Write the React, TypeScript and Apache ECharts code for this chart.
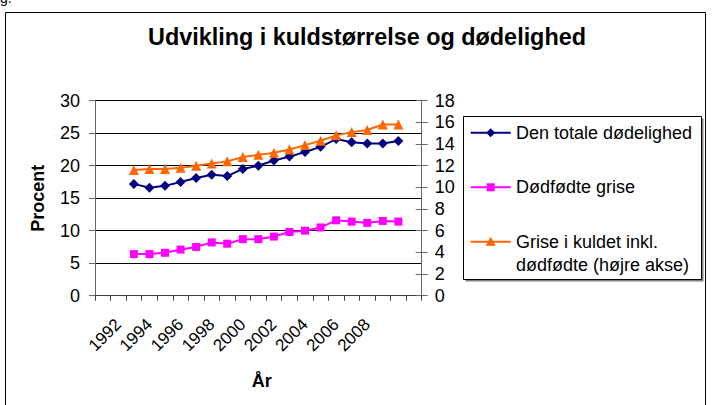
import React, { useEffect, useRef } from "react";
import * as echarts from "echarts";

const FONT = "'Liberation Sans', Arial, sans-serif";

const chartTitle = "Udvikling i kuldstørrelse og dødelighed";
const categories = ["1991","1992","1993","1994","1995","1996","1997","1998","1999","2000","2001","2002","2003","2004","2005","2006","2007","2008","2009","2010","2011"];
const shownLabels = ["1992","1994","1996","1998","2000","2002","2004","2006","2008"];
const dataYears = ["1993","1994","1995","1996","1997","1998","1999","2000","2001","2002","2003","2004","2005","2006","2007","2008","2009","2010"];

const seriesNames = ["Den totale dødelighed", "Dødfødte grise", "Grise i kuldet inkl. dødfødte (højre akse)"];
const totalMortality = [17.2, 16.6, 16.9, 17.5, 18.1, 18.6, 18.4, 19.5, 20.0, 20.8, 21.4, 22.1, 22.9, 24.1, 23.6, 23.4, 23.4, 23.8];
const stillborn = [6.4, 6.4, 6.6, 7.1, 7.5, 8.2, 8.0, 8.7, 8.7, 9.1, 9.8, 10.0, 10.5, 11.6, 11.4, 11.2, 11.5, 11.4];
const litterSize = [11.6, 11.7, 11.7, 11.8, 12.0, 12.2, 12.4, 12.8, 13.0, 13.2, 13.5, 13.9, 14.3, 14.8, 15.1, 15.3, 15.8, 15.8];

const colors = ["#000080", "#FF00FF", "#FF6600"];

const pad = (vals: number[]) =>
  categories.map((c) => {
    const i = dataYears.indexOf(c);
    return i >= 0 ? vals[i] : null;
  });

export default function App() {
  const ref = useRef<HTMLDivElement>(null);
  useEffect(() => {
    if (!ref.current) return;
    const chart = echarts.init(ref.current, null, { renderer: "svg" });
    const gridLeft = 95;
    const gridRight = 291.3;
    const gridTop = 100.7;
    const gridBottom = 109.3;

    // legend geometry
    const lx = 463.5, ly = 116.5, lw = 238, lh = 163;
    const itemY = [132.7, 187.3, 241.7];
    const lineX1 = 470.7, lineX2 = 510.7, mx = 490.7, tx = 516;

    const legendTextStyle = { fontSize: 18, fontFamily: FONT, fill: "#000", verticalAlign: "middle" as const, align: "left" as const };

    const graphic: any[] = [
      { type: "text", left: 0, top: -9, style: { text: "g.", fontSize: 14, fontFamily: FONT, fill: "#000" } },
      { type: "rect", shape: { x: 5.5, y: 12.5, width: 700, height: 400 }, style: { fill: "none", stroke: "#000", lineWidth: 1 }, silent: true },
      { type: "rect", shape: { x: lx + 2, y: ly + 2, width: lw, height: lh }, style: { fill: "#808080" }, z: 10 },
      { type: "rect", shape: { x: lx, y: ly, width: lw, height: lh }, style: { fill: "#fff", stroke: "#000", lineWidth: 1 }, z: 11 },
    ];
    itemY.forEach((y, i) => {
      graphic.push({ type: "line", shape: { x1: lineX1, y1: y, x2: lineX2, y2: y }, style: { stroke: colors[i], lineWidth: 2 }, z: 12 });
    });
    graphic.push({ type: "polygon", shape: { points: [[mx, itemY[0] - 4.5], [mx + 4.5, itemY[0]], [mx, itemY[0] + 4.5], [mx - 4.5, itemY[0]]] }, style: { fill: colors[0] }, z: 13 });
    graphic.push({ type: "rect", shape: { x: mx - 4, y: itemY[1] - 4, width: 8, height: 8 }, style: { fill: colors[1] }, z: 13 });
    graphic.push({ type: "polygon", shape: { points: [[mx, itemY[2] - 5], [mx + 5, itemY[2] + 4], [mx - 5, itemY[2] + 4]] }, style: { fill: colors[2] }, z: 13 });
    graphic.push({ type: "text", x: tx, y: itemY[0], style: { ...legendTextStyle, text: seriesNames[0] }, z: 13 });
    graphic.push({ type: "text", x: tx, y: itemY[1], style: { ...legendTextStyle, text: seriesNames[1] }, z: 13 });
    graphic.push({ type: "text", x: tx, y: itemY[2], style: { ...legendTextStyle, text: "Grise i kuldet inkl." }, z: 13 });
    graphic.push({ type: "text", x: tx, y: itemY[2] + 23.5, style: { ...legendTextStyle, text: "dødfødte (højre akse)" }, z: 13 });

    const option: any = {
      animation: false,
      backgroundColor: "#fff",
      title: {
        text: chartTitle,
        left: 362,
        top: 20,
        textAlign: "center",
        textStyle: { fontSize: 23.4, fontWeight: "bold", fontFamily: FONT, color: "#000" },
      },
      legend: { show: false },
      grid: { left: gridLeft, right: gridRight, top: gridTop, bottom: gridBottom, containLabel: false },
      xAxis: {
        type: "category",
        data: categories,
        boundaryGap: true,
        name: "År",
        nameLocation: "middle",
        nameGap: 76,
        nameTextStyle: { fontSize: 18, fontWeight: "bold", fontFamily: FONT, color: "#000", padding: [0, 0, 0, 7] },
        axisLine: { show: true, lineStyle: { color: "#404040", width: 1 } },
        axisTick: { show: true, inside: false, length: 5, alignWithLabel: false, interval: 0, lineStyle: { color: "#404040" } },
        axisLabel: {
          interval: (index: number, value: string) => shownLabels.indexOf(value) >= 0,
          rotate: 45,
          margin: 26,
          fontSize: 17,
          fontFamily: FONT,
          color: "#000",
        },
        splitLine: { show: false },
      },
      yAxis: [
        {
          type: "value",
          position: "left",
          min: 0,
          max: 30,
          interval: 5,
          name: "Procent",
          nameLocation: "middle",
          nameRotate: 90,
          nameGap: 48,
          nameTextStyle: { fontSize: 18, fontWeight: "bold", fontFamily: FONT, color: "#000" },
          axisLine: { show: true, lineStyle: { color: "#666", width: 1 } },
          axisTick: { show: true, inside: false, length: 6, lineStyle: { color: "#666" } },
          axisLabel: { margin: 15, fontSize: 18, fontFamily: FONT, color: "#000" },
          splitLine: { show: true, lineStyle: { color: "#000", width: 1 } },
        },
        {
          type: "value",
          position: "right",
          min: 0,
          max: 18,
          interval: 2,
          axisLine: { show: true, lineStyle: { color: "#666", width: 1 } },
          axisTick: { show: true, inside: false, length: 6, lineStyle: { color: "#666" } },
          axisLabel: { margin: 13, fontSize: 18, fontFamily: FONT, color: "#000" },
          splitLine: { show: false },
        },
        {
          type: "value",
          position: "right",
          min: 0,
          max: 18,
          interval: 2,
          axisLine: { show: false },
          axisTick: { show: true, inside: true, length: 6, lineStyle: { color: "#666" } },
          axisLabel: { show: false },
          splitLine: { show: false },
        },
      ],
      series: [
        {
          name: seriesNames[0],
          type: "line",
          yAxisIndex: 0,
          data: pad(totalMortality),
          symbol: "diamond",
          symbolSize: 10,
          lineStyle: { color: colors[0], width: 2 },
          itemStyle: { color: colors[0] },
          connectNulls: false,
        },
        {
          name: seriesNames[1],
          type: "line",
          yAxisIndex: 0,
          data: pad(stillborn),
          symbol: "rect",
          symbolSize: 8,
          lineStyle: { color: colors[1], width: 2 },
          itemStyle: { color: colors[1] },
        },
        {
          name: seriesNames[2],
          type: "line",
          yAxisIndex: 1,
          data: pad(litterSize),
          symbol: "triangle",
          symbolSize: 10,
          lineStyle: { color: colors[2], width: 2 },
          itemStyle: { color: colors[2] },
        },
      ],
      graphic,
    };
    chart.setOption(option);
    return () => chart.dispose();
  }, []);
  return (
    <div
      ref={ref}
      style={{ position: "fixed", left: 0, top: 0, width: 713, height: 405, background: "#fff" }}
    />
  );
}
